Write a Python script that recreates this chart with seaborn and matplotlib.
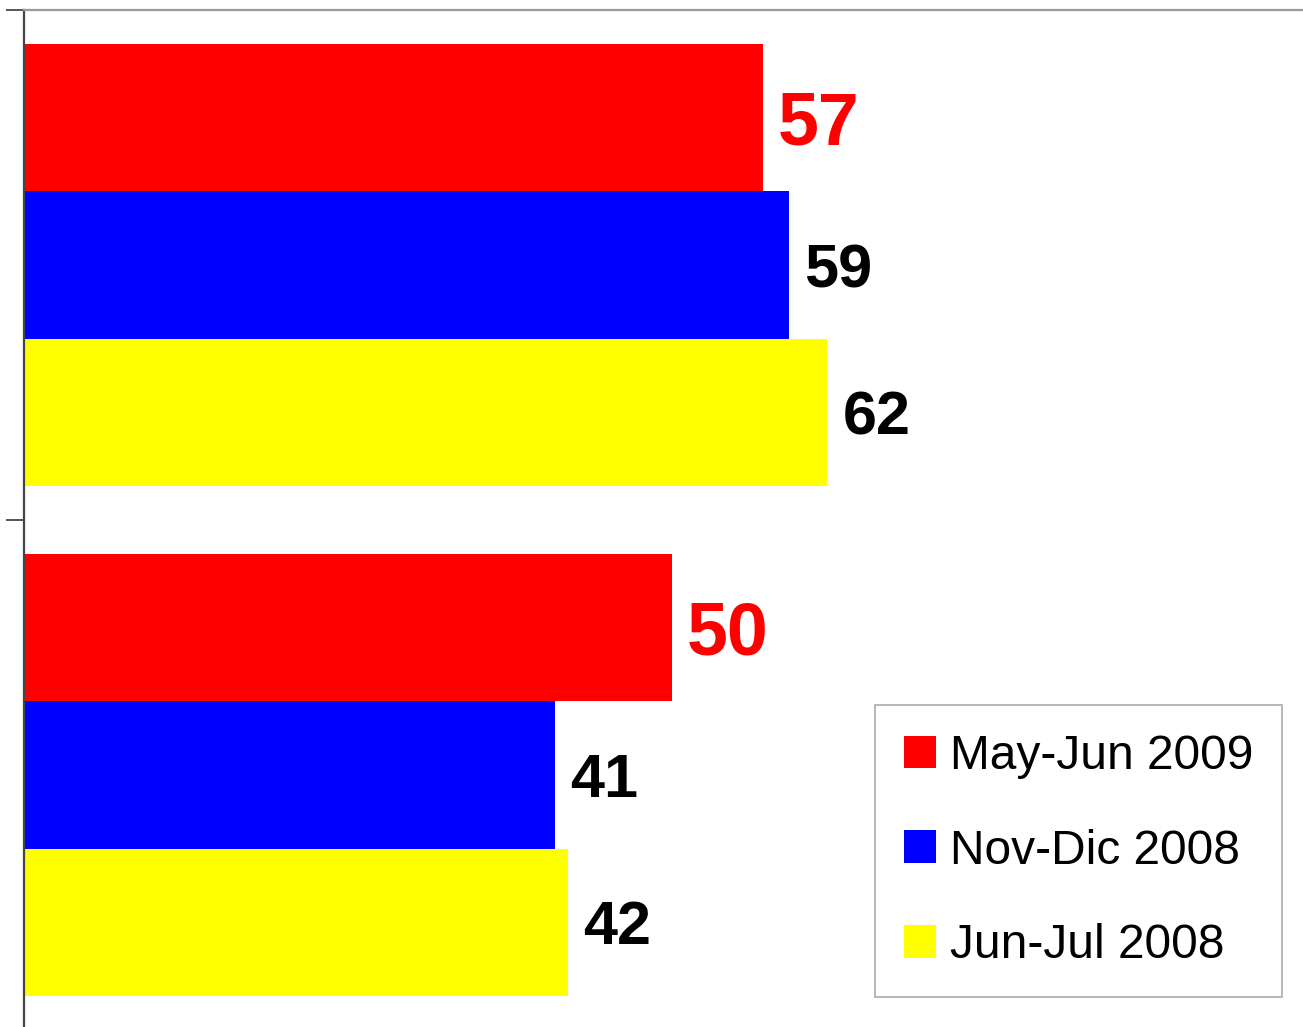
import matplotlib
matplotlib.use("Agg")
import matplotlib.pyplot as plt
import seaborn as sns
import pandas as pd

# Survey results for two questions across three survey waves
categories = ["Pregunta 1", "Pregunta 2"]
periods = ["May-Jun 2009", "Nov-Dic 2008", "Jun-Jul 2008"]
may_jun_2009 = [57, 50]
nov_dic_2008 = [59, 41]
jun_jul_2008 = [62, 42]
period_colors = ["#FF0000", "#0000FF", "#FFFF00"]

rows = []
for period, values in zip(periods, [may_jun_2009, nov_dic_2008, jun_jul_2008]):
    for cat, v in zip(categories, values):
        rows.append({"categoria": cat, "periodo": period, "valor": v})
df = pd.DataFrame(rows)

sns.set_theme(style="white")
plt.rcParams["font.family"] = ["Liberation Sans", "DejaVu Sans"]

fig = plt.figure(figsize=(13.03, 10.27), dpi=100)
ax = fig.add_axes([24 / 1303, -3 / 1027, 1 - 24 / 1303, 1020 / 1027])

sns.barplot(data=df, y="categoria", x="valor", hue="periodo",
            order=categories, hue_order=periods, palette=period_colors,
            orient="h", width=0.865, saturation=1, ax=ax,
            edgecolor="none", linewidth=0, legend=True)

ax.set_xlim(0, 98.7)
ax.set_ylim(1.5, -0.5)

# Value labels: latest wave highlighted in red and larger
for i, cont in enumerate(ax.containers):
    if i == 0:
        texts = ax.bar_label(cont, padding=11, color="#FF0000", fontsize=53,
                             fontweight="bold")
    else:
        texts = ax.bar_label(cont, padding=11, color="black", fontsize=44,
                             fontweight="bold")
    for t in texts:
        t.set_verticalalignment("center_baseline")

# Axes frame
for side in ["right", "bottom"]:
    ax.spines[side].set_visible(False)
ax.spines["top"].set_color("#999999")
ax.spines["top"].set_linewidth(1.6)
ax.spines["left"].set_color("#444444")
ax.spines["left"].set_linewidth(1.6)

ax.set_xticks([])
ax.set_yticks([-0.5, 0.5, 1.5])
ax.set_yticklabels([])
ax.tick_params(axis="y", direction="out", length=13, width=1.4,
               color="#555555", left=True)
ax.set_xlabel("")
ax.set_ylabel("")

handles, labels = ax.get_legend_handles_labels()
leg = ax.legend(handles, labels, loc="upper left",
                bbox_to_anchor=(875 / 1303, 1 - 705 / 1027),
                bbox_transform=fig.transFigure,
                fontsize=34.5, frameon=True, fancybox=False,
                edgecolor="#aaaaaa", framealpha=1, labelcolor="black",
                handlelength=0.67, handleheight=0.67, handletextpad=0.3,
                labelspacing=1.04, borderpad=0.6, borderaxespad=0)
leg.get_frame().set_linewidth(1.2)

fig.savefig("out.png", dpi=100, facecolor="white")
